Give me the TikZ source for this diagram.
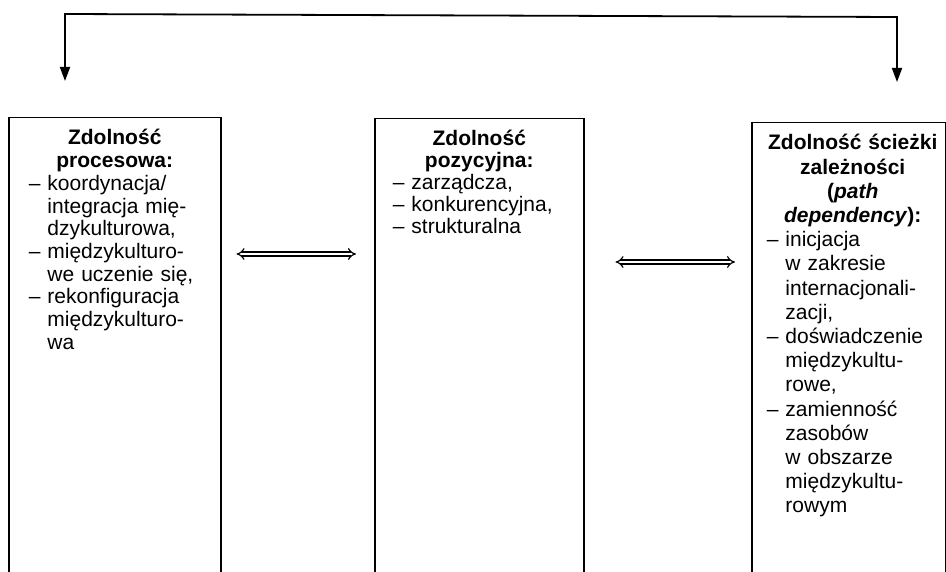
\documentclass[tikz,border=0pt]{standalone}
\usepackage{fontspec}
\setmainfont{Liberation Sans}
\usetikzlibrary{arrows.meta,positioning,calc}
\hyphenpenalty=10000
\newcommand{\indnt}{\hphantom{– }}

\begin{document}
\begin{tikzpicture}[x=1pt, y=-1pt,
  box/.style={draw, line width=1.5pt, minimum height=520pt, anchor=north west, inner sep=0pt},
  txt/.style={anchor=base, align=left, inner sep=0pt},
  dbl/.style={double, double distance=2.8pt, line width=1.2pt, {Implies}-{Implies}},
  feed/.style={line width=1.8pt, {Triangle[length=14pt, width=10pt]}-{Triangle[length=14pt, width=10pt]}}]
  \path[use as bounding box, clip] (0,0) rectangle (946,572);
  % boxes
  \node[box, minimum width=212pt] (proc) at (8,117) {};
  \node[box, minimum width=209pt] (pos)  at (374,118) {};
  \node[box, minimum width=194pt] (path) at (751,122) {};
  % texts
  \node[txt, text width=172pt, font=\fontsize{21}{22.7}\selectfont] (proctxt) at ([yshift=-28pt]proc.north)
    {{\centering\bfseries Zdolność\\procesowa:\par}
     – koordynacja/\\ \indnt integracja mię-\\ \indnt dzykulturowa,\\
     – międzykulturo-\\ \indnt we uczenie się,\\
     – rekonfiguracja\\ \indnt międzykulturo-\\ \indnt wa};
  \node[txt, text width=173pt, font=\fontsize{21}{21.8}\selectfont] (postxt) at ([yshift=-28pt]pos.north)
    {{\centering\bfseries Zdolność\\pozycyjna:\par}
     – zarządcza,\\ – konkurencyjna,\\ – strukturalna};
  \node[txt, text width=172pt, font=\fontsize{21}{24.2}\selectfont] (pathtxt) at ([xshift=4pt, yshift=-28pt]path.north)
    {{\centering\bfseries Zdolność ścieżki\\zależności\\(\textit{path}\\\textit{dependency}):\par}
     – inicjacja\\ \indnt w zakresie\\ \indnt internacjonali-\\ \indnt zacji,\\
     – doświadczenie\\ \indnt międzykultu-\\ \indnt rowe,\\
     – zamienność\\ \indnt zasobów\\ \indnt w obszarze\\ \indnt międzykultu-\\ \indnt rowym};
  % feedback arrow on top
  \coordinate (ltop) at (65,14);
  \coordinate (lend) at (65,81);
  \coordinate (rtop) at (897,17);
  \coordinate (rend) at (897,82);
  \draw[feed] (lend) -- (ltop) -- (rtop) -- (rend);
  % links between boxes
  \draw[dbl, shorten <=15pt, shorten >=18pt] (proc.east |- 0,254) -- (pos.west |- 0,254);
  \draw[dbl, shorten <=31pt, shorten >=16pt] (pos.east |- 0,262) -- (path.west |- 0,262);
\end{tikzpicture}
\end{document}
